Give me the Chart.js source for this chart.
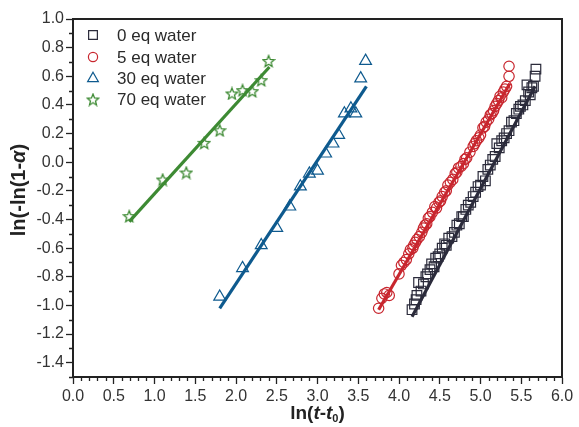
<!DOCTYPE html>
<html><head><meta charset="utf-8">
<script src="https://cdn.jsdelivr.net/npm/chart.js@4.4.0/dist/chart.umd.min.js"></script>
<style>html,body{margin:0;padding:0;background:#fff;overflow:hidden}</style>
</head><body>
<canvas id="c" width="579" height="427"></canvas>
<script>
// ---------- data ----------
const seriesLabels = ['0 eq water', '5 eq water', '30 eq water', '70 eq water'];
const xMajorTicks = [0, 0.5, 1, 1.5, 2, 2.5, 3, 3.5, 4, 4.5, 5, 5.5, 6];
const yMajorTicks = [-1.4, -1.2, -1.0, -0.8, -0.6, -0.4, -0.2, 0, 0.2, 0.4, 0.6, 0.8, 1.0];

const water0X = [4.16,4.19,4.21,4.22,4.24,4.27,4.30,4.33,4.35,4.38,4.40,4.43,4.45,4.48,4.50,4.53,4.56,4.58,4.61,4.65,4.68,4.71,4.74,4.77,4.79,4.82,4.85,4.88,4.91,4.94,4.97,5.00,5.03,5.06,5.09,5.12,5.15,5.18,5.20,5.23,5.26,5.29,5.32,5.35,5.38,5.41,5.44,5.47,5.49,5.52,5.55,5.57,5.59,5.61,5.63,5.65,5.67,5.68];
const water0Y = [-1.03,-0.99,-0.96,-0.93,-0.84,-0.90,-0.85,-0.80,-0.78,-0.75,-0.71,-0.73,-0.67,-0.66,-0.64,-0.60,-0.57,-0.58,-0.53,-0.52,-0.49,-0.44,-0.43,-0.38,-0.38,-0.33,-0.30,-0.28,-0.24,-0.21,-0.17,-0.16,-0.10,-0.13,-0.05,-0.02,0.02,0.04,0.13,0.10,0.15,0.17,0.20,0.22,0.28,0.29,0.34,0.37,0.39,0.40,0.43,0.54,0.49,0.47,0.52,0.53,0.60,0.65];

const water5X = [3.75,3.79,3.82,3.85,3.88,4.00,4.03,4.06,4.09,4.12,4.14,4.17,4.18,4.20,4.22,4.25,4.28,4.30,4.32,4.34,4.36,4.38,4.41,4.44,4.46,4.49,4.51,4.53,4.56,4.58,4.60,4.63,4.66,4.69,4.71,4.73,4.76,4.79,4.81,4.83,4.87,4.91,4.93,4.95,4.98,5.00,5.03,5.05,5.07,5.10,5.12,5.14,5.16,5.18,5.20,5.22,5.24,5.26,5.28,5.30,5.32,5.35,5.35];
const water5Y = [-1.02,-0.95,-0.92,-0.91,-0.93,-0.78,-0.72,-0.70,-0.68,-0.64,-0.61,-0.60,-0.58,-0.56,-0.54,-0.52,-0.49,-0.46,-0.44,-0.43,-0.39,-0.38,-0.35,-0.31,-0.32,-0.28,-0.27,-0.24,-0.21,-0.20,-0.16,-0.14,-0.12,-0.08,-0.07,-0.04,-0.03,-0.01,0.02,0.03,0.07,0.11,0.13,0.15,0.17,0.19,0.24,0.25,0.28,0.30,0.33,0.34,0.36,0.39,0.41,0.43,0.46,0.45,0.49,0.51,0.53,0.60,0.67];

const water30X = [1.80,2.08,2.31,2.50,2.66,2.79,2.90,3.00,3.10,3.19,3.26,3.33,3.41,3.47,3.53,3.59];
const water30Y = [-0.94,-0.74,-0.58,-0.46,-0.31,-0.17,-0.08,-0.06,0.06,0.13,0.19,0.34,0.375,0.34,0.585,0.707];

const water70X = [0.69,1.10,1.39,1.61,1.80,1.95,2.08,2.20,2.31,2.40];
const water70Y = [-0.377,-0.121,-0.072,0.135,0.223,0.48,0.503,0.496,0.573,0.707];

// fitted lines (end points)
const fit0X = [4.16, 5.67];   const fit0Y = [-1.08, 0.53];
const fit5X = [3.75, 5.36];   const fit5Y = [-1.03, 0.55];
const fit30X = [1.80, 3.60];  const fit30Y = [-1.02, 0.53];
const fit70X = [0.69, 2.41];  const fit70Y = [-0.415, 0.665];

const colors = ['#2b2b3b', '#c8262e', '#0e5a8e', '#3d8a33'];

// ---------- helpers ----------
const toPts = (xs, ys) => xs.map((x, i) => ({x: x, y: ys[i]}));
function makeStar(color) {
  const s = 14, c = document.createElement('canvas');
  c.width = s; c.height = s;
  const g = c.getContext('2d');
  const cx = s / 2, cy = s / 2 + 0.6, R = 6, r = 2.6;
  g.beginPath();
  for (let i = 0; i < 10; i++) {
    const a = -Math.PI / 2 + i * Math.PI / 5;
    const rr = i % 2 === 0 ? R : r;
    const px = cx + rr * Math.cos(a), py = cy + rr * Math.sin(a);
    if (i === 0) g.moveTo(px, py); else g.lineTo(px, py);
  }
  g.closePath();
  g.strokeStyle = color; g.lineWidth = 1.3; g.stroke();
  return c;
}
const starImg = makeStar(colors[3]);
const markerStyles = ['rect', 'circle', 'triangle', starImg];
const markerRadius = [6.8, 5.2, 6.8, 7];

const FONT = '"Liberation Sans", Arial, sans-serif';

function scatterDs(i, xs, ys) {
  return {
    type: 'scatter', label: seriesLabels[i], data: toPts(xs, ys), order: 2,
    pointStyle: markerStyles[i], pointRadius: markerRadius[i], pointHoverRadius: markerRadius[i],
    borderColor: colors[i], backgroundColor: 'rgba(0,0,0,0)', borderWidth: 1.2, showLine: false
  };
}
function fitDs(i, xs, ys) {
  return {
    type: 'scatter', label: 'fit ' + seriesLabels[i], data: toPts(xs, ys), order: 1,
    showLine: true, pointRadius: 0, borderColor: colors[i], borderWidth: 3.2, fill: false
  };
}

const frameAndTitles = {
  id: 'frameAndTitles',
  afterDraw(chart) {
    const ctx = chart.ctx, a = chart.chartArea;
    const xs = chart.scales.x, ys = chart.scales.y;
    ctx.save();
    ctx.strokeStyle = '#222'; ctx.lineWidth = 2;
    ctx.beginPath();
    ctx.moveTo(a.left, a.top); ctx.lineTo(a.right, a.top); ctx.lineTo(a.right, a.bottom);
    ctx.stroke();
    // minor ticks
    ctx.lineWidth = 1.3;
    ctx.beginPath();
    for (let i = 0; i <= 60; i++) {
      if (i % 5 === 0) continue;
      const px = Math.round(xs.getPixelForValue(i / 10)) + 0.5;
      ctx.moveTo(px, a.bottom); ctx.lineTo(px, a.bottom + 4);
    }
    for (let i = -15; i <= 10; i++) {
      if (Math.abs(i) % 2 === 0 && i !== -15) continue;
      const py = Math.round(ys.getPixelForValue(i / 10)) + 0.5;
      ctx.moveTo(a.left, py); ctx.lineTo(a.left - 4, py);
    }
    ctx.stroke();

    // axis titles
    ctx.fillStyle = '#222';
    ctx.textBaseline = 'middle';
    function drawSegs(segs, cx, cy) {
      let total = 0;
      segs.forEach(s => { ctx.font = s[1]; total += ctx.measureText(s[0]).width; });
      let x = cx - total / 2;
      segs.forEach(s => {
        ctx.font = s[1];
        ctx.textAlign = 'left';
        ctx.fillText(s[0], x, cy + (s[2] || 0));
        x += ctx.measureText(s[0]).width;
      });
    }
    const B = 'bold 19px ' + FONT, BI = 'italic bold 19px ' + FONT, SUB = 'bold 11px ' + FONT;
    drawSegs([['ln(', B], ['t', BI], ['-', B], ['t', BI], ['0', SUB, 5], [')', B]], (a.left + a.right) / 2, 414);
    const BY = 'bold 20px ' + FONT, BYI = 'italic bold 20px ' + FONT;
    ctx.save();
    ctx.translate(19, 190);
    ctx.rotate(-Math.PI / 2);
    drawSegs([['ln(-ln(1-', BY], ['α', BYI], [')', BY]], 0, 0);
    ctx.restore();

    // legend
    const rows = [35, 57, 78.5, 99.5];
    ctx.font = '17px ' + FONT;
    ctx.textBaseline = 'middle';
    for (let i = 0; i < 4; i++) {
      const cx = 93, cy = rows[i];
      if (i === 3) {
        ctx.drawImage(starImg, cx - starImg.width / 2, cy - starImg.height / 2);
      } else {
        ctx.strokeStyle = colors[i]; ctx.lineWidth = 1.2;
        ctx.fillStyle = 'rgba(0,0,0,0)';
        Chart.helpers.drawPoint(ctx, {pointStyle: markerStyles[i], radius: markerRadius[i] - 0.6, rotation: 0, borderWidth: 1.2}, cx, cy);
      }
      ctx.fillStyle = '#2a2a2a';
      ctx.textAlign = 'left';
      ctx.fillText(seriesLabels[i], 117, cy + 1);
    }
    ctx.restore();
  }
};

new Chart(document.getElementById('c'), {
  type: 'scatter',
  data: {
    datasets: [
      fitDs(0, fit0X, fit0Y), fitDs(1, fit5X, fit5Y), fitDs(2, fit30X, fit30Y), fitDs(3, fit70X, fit70Y),
      scatterDs(0, water0X, water0Y), scatterDs(1, water5X, water5Y),
      scatterDs(2, water30X, water30Y), scatterDs(3, water70X, water70Y)
    ]
  },
  options: {
    responsive: false, animation: false, devicePixelRatio: 1,
    layout: {padding: {top: 19, right: 17, left: 0, bottom: 0}},
    plugins: {legend: {display: false}, tooltip: {enabled: false}, title: {display: false}},
    scales: {
      x: {
        type: 'linear', min: 0, max: 6,
        afterBuildTicks: s => { s.ticks = xMajorTicks.map(v => ({value: v})); },
        afterFit: s => { s.height = 50; },
        ticks: {autoSkip: false, maxRotation: 0, padding: 3, color: '#333',
          font: {family: FONT, size: 16}, callback: v => Number(v).toFixed(1)},
        grid: {drawOnChartArea: false, drawTicks: true, tickLength: 7, tickColor: '#222', tickWidth: 1.3},
        border: {display: true, color: '#222', width: 2}
      },
      y: {
        type: 'linear', min: -1.5, max: 1.0,
        afterBuildTicks: s => { s.ticks = yMajorTicks.map(v => ({value: v})); },
        afterFit: s => { s.width = 73; },
        ticks: {autoSkip: false, padding: 2, color: '#333',
          font: {family: FONT, size: 16}, callback: v => Number(v).toFixed(1)},
        grid: {drawOnChartArea: false, drawTicks: true, tickLength: 7, tickColor: '#222', tickWidth: 1.3},
        border: {display: true, color: '#222', width: 2}
      }
    }
  },
  plugins: [frameAndTitles]
});
</script>
</body></html>
